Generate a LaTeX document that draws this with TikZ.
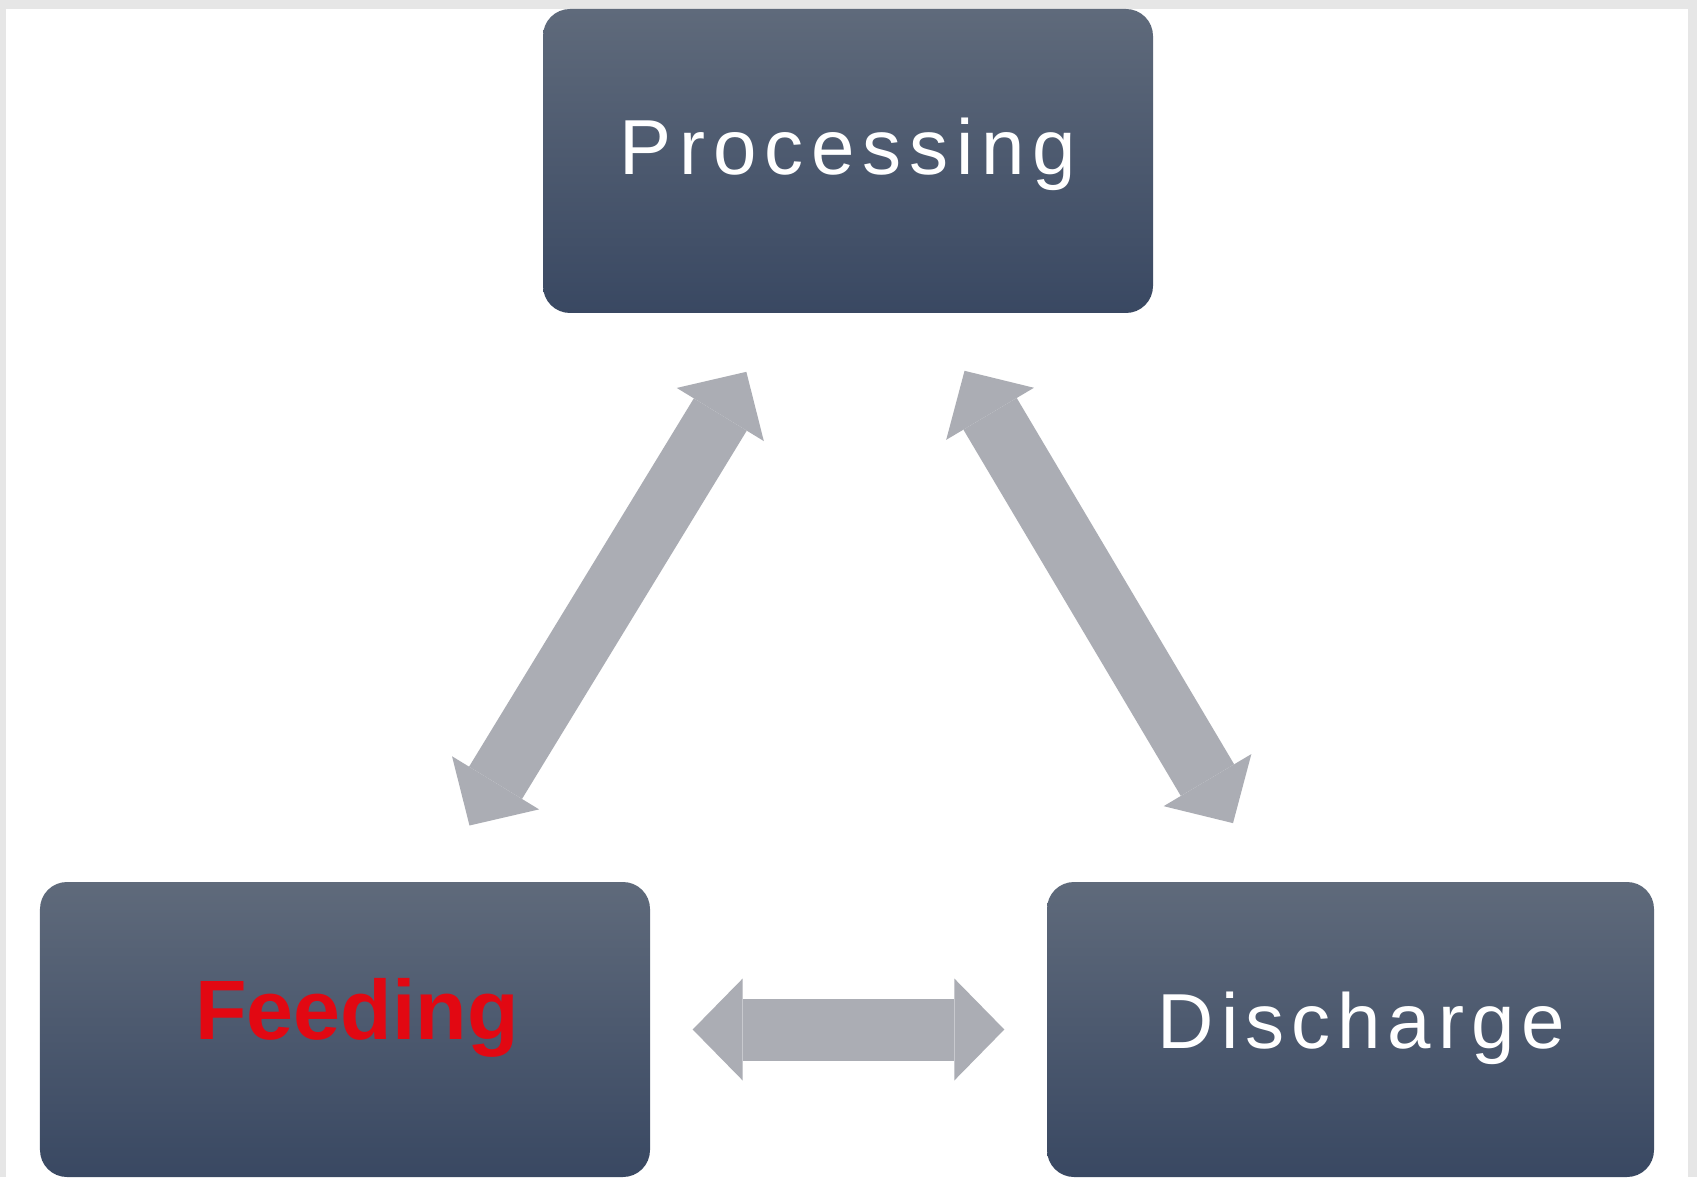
\documentclass[tikz,border=0pt]{standalone}
\usepackage		 {xcolor   }
\usepackage		 {fontspec }
\setmainfont{Liberation Sans}
\newfontfamily\procfont[LetterSpace=10]{Liberation Sans}
\newfontfamily\dischfont[LetterSpace=9]{Liberation Sans}
\usepackage		 {tikz	  }
\usetikzlibrary{arrows.meta,calc,positioning}

\definecolor{boxtop}{RGB}{95,106,123}
\definecolor{boxbot}{RGB}{57,72,98}
\definecolor{arrowgray}{RGB}{171,173,180}
\definecolor{framegray}{RGB}{230,230,230}
\definecolor{feedred}{RGB}{226,8,18}

\begin{document}
\begin{tikzpicture}
  \tikzset{
  box/.style={rectangle,rounded corners=0.27cm,top color=boxtop,bottom color=boxbot,inner sep=0pt,minimum width=6.1cm,white},
  link/.style={draw=arrowgray,line width=0.62cm,
    {Triangle[length=0.5cm,width=1.02cm,line width=0pt]}-{Triangle[length=0.5cm,width=1.02cm,line width=0pt]}},
  }
  % the frame
  \useasboundingbox (0,0) rectangle (16.97,11.77);
  \fill[framegray] (0,0) rectangle (16.97,11.77);
  \fill[white] (0.06,0) rectangle (16.88,11.68);

  % the boxes
  \node[box,text height=1.66cm,text depth=1.38cm] (proc) at (8.48,10.16)
    {\procfont\fontsize{22.2pt}{26pt}\selectfont Processing};
  \node[box,text height=1.57cm,text depth=1.38cm] (feed) at (3.45,1.475)
    {\hspace*{0.24cm}\fontsize{24pt}{28pt}\selectfont\bfseries\color{feedred}Feeding};
  \node[box,text height=1.66cm,text depth=1.29cm,minimum width=6.07cm] (dis) at (13.505,1.475)
    {\hspace*{0.22cm}\dischfont\fontsize{22.2pt}{26pt}\selectfont Discharge};

  % the arrows between the boxes
  \draw[link,shorten <=2.39cm,shorten >=2.47cm] (feed.center) -- ([xshift=0.27cm]proc.center);
  \draw[link,shorten <=2.40cm,shorten >=2.44cm] ([xshift=0.05cm]dis.center) -- ([xshift=-0.08cm]proc.center);
  \draw[link,shorten <=0.42cm,shorten >=0.42cm] (feed.east) -- (dis.west);
\end{tikzpicture}
\end{document}
